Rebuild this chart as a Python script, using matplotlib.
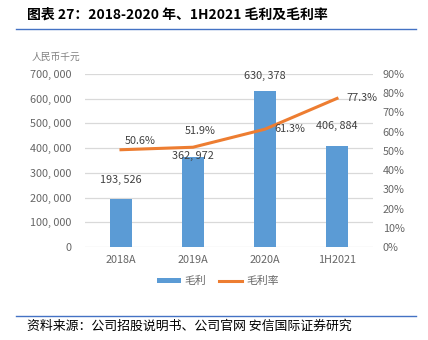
import matplotlib.pyplot as plt
from matplotlib.lines import Line2D
from matplotlib.patches import Patch

plt.rcParams['font.family'] = ['Noto Sans CJK SC', 'DejaVu Sans']

''' DATOS '''
categorias = ["2018A", "2019A", "2020A", "1H2021"]
margen_bruto = [193526, 362972, 630378, 406884]
tasa_margen = [0.506, 0.519, 0.613, 0.773]
ticks_izq = [0, 100000, 200000, 300000, 400000, 500000, 600000, 700000]
ticks_der = [0, 0.1, 0.2, 0.3, 0.4, 0.5, 0.6, 0.7, 0.8, 0.9]

azul = "#5B9BD5"
naranja = "#ED7D31"
gris = "#666666"

def fmt_num(v):
    return f"{v:,}".replace(",", ", ")

''' FIGURA '''
fig = plt.figure(figsize=(4.28, 3.40), dpi=100)
ax = fig.add_axes([85 / 428, 93 / 340, 288 / 428, 173 / 340])
ax2 = ax.twinx()

x = list(range(len(categorias)))
ax.bar(x, margen_bruto, width=0.31, color=azul, zorder=2)
ax.set_xlim(-0.5, 3.5)
ax.set_ylim(0, 700000)
ax.set_yticks(ticks_izq)
ax.set_yticklabels([fmt_num(v) for v in ticks_izq])
ax.set_xticks(x)
ax.set_xticklabels(categorias)
ax.grid(axis="y", color="#D9D9D9", linewidth=0.9, zorder=0)
ax.set_axisbelow(True)

ax2.plot(x, tasa_margen, color=naranja, linewidth=2.2, zorder=3)
ax2.set_ylim(0, 0.9)
ax2.set_yticks(ticks_der)
ax2.set_yticklabels([f"{int(round(v * 100))}%" for v in ticks_der])

for a in (ax, ax2):
    for s in a.spines.values():
        s.set_visible(False)
    a.tick_params(length=0, labelsize=7.8, labelcolor=gris)
ax.tick_params(axis="y", pad=10)
ax.tick_params(axis="x", pad=6)
ax2.tick_params(axis="y", pad=7)

# Etiquetas de barras
desp_barras = [10, -3, 7, 11]
for xi, v, d in zip(x, margen_bruto, desp_barras):
    ax.annotate(fmt_num(v), (xi, v), xytext=(0, d), textcoords="offset points",
                ha="center", va="bottom", fontsize=7.8, color="#404040")

# Etiquetas de la linea
desp_linea = [(14, 6), (5, 12), (18, 0), (18, 0)]
for xi, v, (dx, dy) in zip(x, tasa_margen, desp_linea):
    ax2.annotate(f"{v * 100:.1f}%", (xi, v), xytext=(dx, dy), textcoords="offset points",
                 ha="center", va="center", fontsize=7.8, color="#404040")

# Unidad
fig.text(32 / 428, 1 - 57 / 340, "人民币千元", fontsize=7, color="#808080", va="center", ha="left")

# Leyenda
handles = [Patch(facecolor=azul, edgecolor="none", label="毛利"),
           Line2D([0], [0], color=naranja, linewidth=2.2, label="毛利率")]
fig.legend(handles=handles, loc="center", bbox_to_anchor=(218 / 428, 1 - 281 / 340), ncol=2,
           frameon=False, fontsize=7.8, labelcolor=gris, handlelength=2.2, handleheight=0.35,
           columnspacing=1.1, handletextpad=0.4)

# Titulo y fuente
fig.text(27 / 428, 1 - 15 / 340, "图表 27：2018-2020 年、1H2021 毛利及毛利率", fontsize=10,
         fontweight="bold", va="center", ha="left", color="#000000")
fig.add_artist(Line2D([16 / 428, 416 / 428], [1 - 29 / 340] * 2, color="#4472C4", linewidth=1))
fig.add_artist(Line2D([16 / 428, 416 / 428], [1 - 316 / 340] * 2, color="#4472C4", linewidth=1))
fig.text(27 / 428, 1 - 326 / 340, "资料来源：公司招股说明书、公司官网 安信国际证券研究", fontsize=9.3,
         style="italic", va="center", ha="left", color="#000000")

fig.savefig("out.png", dpi=100, facecolor="white")
